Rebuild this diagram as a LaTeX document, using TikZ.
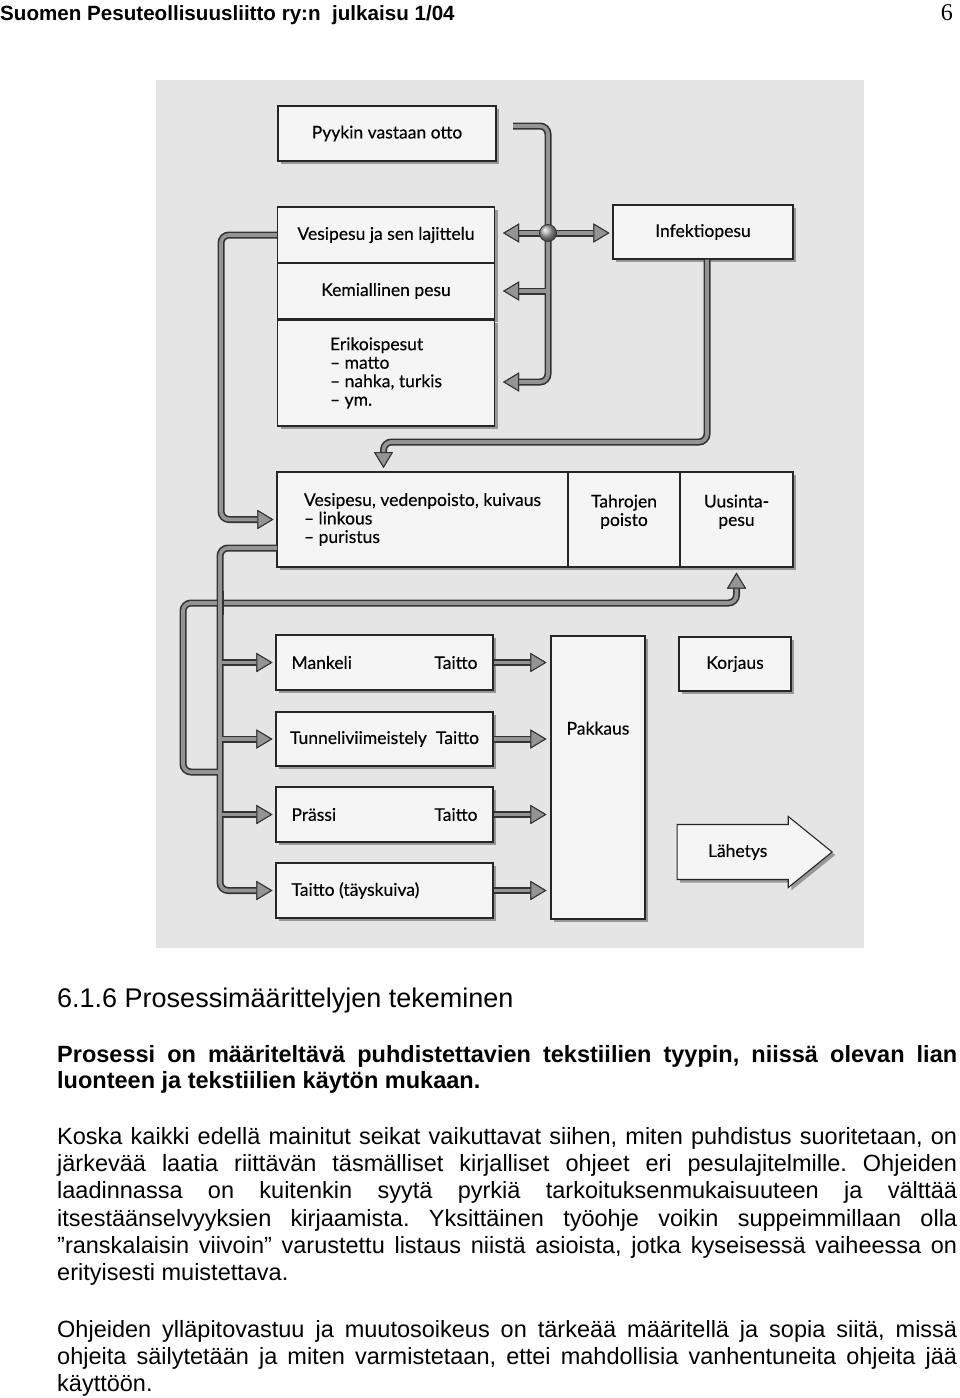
\documentclass[tikz,border=0pt]{standalone}
\usepackage{fontspec}
\setmainfont{Liberation Sans}
\newfontfamily\gill{Lato}[FakeBold=0.25]
\newfontfamily\serif{Liberation Serif}
\usetikzlibrary{arrows.meta,shadows,shapes.arrows}
\frenchspacing

% all the pipes, drawn once dark and once light
\newcommand{\pipework}[1]{%
% back to rewash (runs under the wash line)
\draw[#1, pipetip, rounded corners=8pt, shorten >=5pt] (lb) -| (lp) -| (rewash.south);
% from reception to the washes
\draw[#1, pipetip, rounded corners=8pt, shorten >=8pt] (r0) -- (hub |- r0) -- (tb) -- (erik.east |- tb);
\draw[#1, pipetip, shorten >=8pt] (hub) -- (vesi.east |- hub);
\draw[#1, pipetip, shorten >=3pt] (hub) -- (infekt.west |- hub);
\draw[#1, pipetip, shorten >=8pt] (hub |- kem.east) -- (kem.east);
% infection wash down to the wash line
\draw[#1, pipetip, rounded corners=8pt, shorten >=4pt] (infekt.south -| k1) -- (k1) -| (k2);
\draw[#1, pipetip, rounded corners=8pt, shorten >=3pt] (vesi.west) -| (wl |- wash2.west) -- (wash2.west);
% wash line to finishing
\draw[#1, pipetip, rounded corners=8pt, shorten >=3pt] (w0) -| (fl |- taitto.west) -- (taitto.west);
\foreach \b in {mank,tunn,prass}
  \draw[#1, pipetip, shorten >=3pt] (fl |- \b.west) -- (\b.west);
% finishing to packing
\foreach \b in {mank,tunn,prass,taitto}
  \draw[#1, pipetip, shorten >=4pt] (\b.east) -- (pakkaus.west |- \b.east);
}

\begin{document}
\begin{tikzpicture}[x=1pt, y=-1pt,
  box/.style={draw=black!85, line width=1.1pt, fill=black!4, inner sep=0pt,
    minimum height=55pt, font=\gill\fontsize{17.5}{18.5}\selectfont,
    drop shadow={shadow xshift=3pt, shadow yshift=-3pt, fill=black!60, opacity=0.6}},
  pipetip/.style={-{Triangle[width=19pt, length=16pt, line width=1pt, color=black!80, fill=black!42]}},
  tubeout/.style={draw=black!80, line width=7pt},
  tubein/.style={draw=black!42, line width=3.8pt},
  hubball/.style={circle, draw=black!80, line width=0.8pt, ball color=black!35,
    minimum size=17pt, inner sep=0pt},
  txt/.style={inner sep=0pt, anchor=base west},
  body/.style={txt, font=\fontsize{23.5}{27}\selectfont},
]
\useasboundingbox (0,0) rectangle (960,1398);

% page head
\node[txt, font=\bfseries\fontsize{20.6}{24}\selectfont] (head) at (0,20) {Suomen Pesuteollisuusliitto ry:n\ \ julkaisu 1/04};
\node[anchor=base east, inner sep=0pt, font=\serif\fontsize{24}{28}\selectfont] (page) at (953,20) {6};

% scanned figure
\fill[black!10] (156,80) rectangle (864,948);

% washing
\node[box, minimum width=218pt] (recv) at (387,133.5) {Pyykin vastaan otto};
\node[box, minimum width=217pt, minimum height=56pt] (vesi) at (386,235) {Vesipesu ja sen lajittelu};
\node[box, minimum width=217pt, minimum height=56pt] (kem) at (386,291) {Kemiallinen pesu};
\node[box, minimum width=217pt, minimum height=106pt, align=left] (erik) at (386,373)
  {Erikoispesut\\– matto\\– nahka, turkis\\– ym.};
\node[box, minimum width=180pt, minimum height=54pt] (infekt) at (703,232) {Infektiopesu};

% wash line
\node[box, minimum width=291pt, minimum height=95pt, align=left] (wash2) at (422.5,519.5)
  {Vesipesu, vedenpoisto, kuivaus\\– linkous\\– puristus};
\node[box, minimum width=112pt, minimum height=95pt, align=center] (stain) at (624,519.5) {Tahrojen\\poisto\\\mbox{}};
\node[box, minimum width=113pt, minimum height=95pt, align=center] (rewash) at (736.5,519.5) {Uusinta-\\pesu\\\mbox{}};

% finishing
\node[box, minimum width=217pt] (mank) at (384.5,662.5) {\makebox[186pt]{Mankeli\hfill Taitto}};
\node[box, minimum width=217pt, minimum height=54pt] (tunn) at (384.5,739) {\makebox[189pt]{Tunneliviimeistely\hfill Taitto}};
\node[box, minimum width=217pt] (prass) at (384.5,814.5) {\makebox[186pt]{Prässi\hfill Taitto}};
\node[box, minimum width=217pt] (taitto) at (384.5,890.5) {\makebox[186pt][l]{Taitto (täyskuiva)}};
\node[box, minimum width=94pt, minimum height=283pt] (pakkaus) at (598,777.5) {\raisebox{43pt}[0pt][0pt]{Pakkaus}};
\node[box, minimum width=112pt, minimum height=54pt] (korjaus) at (735,664) {Korjaus};
\node[box, single arrow, single arrow head extend=8pt, single arrow tip angle=78,
  minimum height=155pt, inner ysep=19pt, anchor=tip] (ship) at (833,852) {Lähetys\hspace{16pt}};

% pipe corners
\coordinate (r0) at (513,126);
\coordinate (hub) at (548,233);
\coordinate (tb) at (548,382);
\coordinate (k1) at (707,442);
\coordinate (k2) at (383.5,472);
\coordinate (wl) at (221,0);
\coordinate (w0) at (277,548);
\coordinate (fl) at (220,0);
\coordinate (lb) at (220,772);
\coordinate (lp) at (183,603);
\coordinate (cross) at (fl |- lp);

\pipework{tubeout}
\pipework{tubein}
% the wash line pipe passes over the loop
\draw[tubeout] ([yshift=12pt]cross) -- ([yshift=-12pt]cross);
\draw[tubein] ([yshift=13pt]cross) -- ([yshift=-13pt]cross);
\node[hubball] (ball) at (hub) {};

% text below
\node[txt, font=\fontsize{27}{32}\selectfont] (sect) at (57,1007.5) {6.1.6 Prosessimäärittelyjen tekeminen};
\node[txt, font=\bfseries\fontsize{23.5}{27}\selectfont] (b1) at (57,1062)
  {\makebox[900pt][s]{Prosessi on määriteltävä puhdistettavien tekstiilien tyypin, niissä olevan lian}};
\node[txt, font=\bfseries\fontsize{23.5}{27}\selectfont] (b2) at (57,1088) {luonteen ja tekstiilien käytön mukaan.};

\foreach \t [count=\i] in {
  {Koska kaikki edellä mainitut seikat vaikuttavat siihen, miten puhdistus suoritetaan, on},
  {järkevää laatia riittävän täsmälliset kirjalliset ohjeet eri pesulajitelmille. Ohjeiden},
  {laadinnassa on kuitenkin syytä pyrkiä tarkoituksenmukaisuuteen ja välttää},
  {itsestäänselvyyksien kirjaamista. Yksittäinen työohje voikin suppeimmillaan olla},
  {”ranskalaisin viivoin” varustettu listaus niistä asioista, jotka kyseisessä vaiheessa on}}
  \node[body] (p\i) at (57,{1144.5+27.2*(\i-1)}) {\makebox[900pt][s]{\t}};
\node[body] (p6) at (57,1280.5) {erityisesti muistettava.};

\foreach \t [count=\i] in {
  {Ohjeiden ylläpitovastuu ja muutosoikeus on tärkeää määritellä ja sopia siitä, missä},
  {ohjeita säilytetään ja miten varmistetaan, ettei mahdollisia vanhentuneita ohjeita jää}}
  \node[body] (q\i) at (57,{1337+27.2*(\i-1)}) {\makebox[900pt][s]{\t}};
\node[body] (q3) at (57,1391) {käyttöön.};
\end{tikzpicture}
\end{document}
